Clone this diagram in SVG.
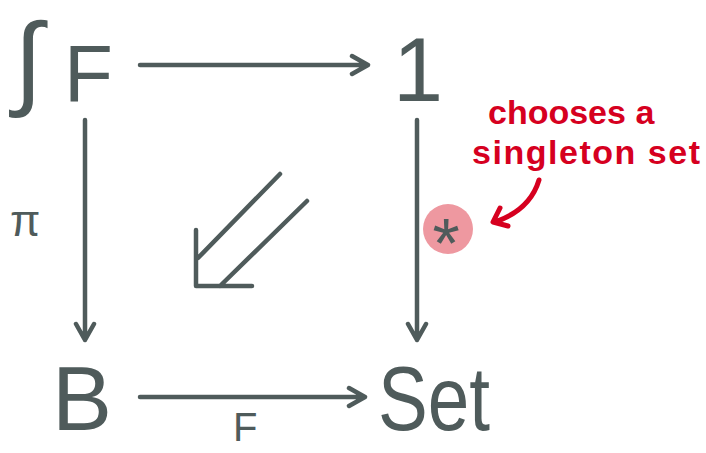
<svg xmlns="http://www.w3.org/2000/svg" width="706" height="453" viewBox="0 0 706 453">
<style>
.lbl{font-family:"Liberation Sans","DejaVu Sans",sans-serif;fill:#4f5b5b}
.ln{stroke:#4f5b5b;stroke-width:4.5;fill:none;stroke-linecap:round;stroke-linejoin:round}
.red{font-family:"Liberation Sans",sans-serif;font-weight:bold;fill:#d6001f;font-size:34px}
</style>
<rect width="706" height="453" fill="#ffffff"/>
<g id="node-intF"><text class="lbl" x="14" y="96" font-size="104">∫</text><text class="lbl" x="64" y="101" font-size="80">F</text></g>
<g id="node-1"><text class="lbl" x="393" y="101" font-size="90">1</text></g>
<g id="node-B"><text class="lbl" x="52" y="430" font-size="90">B</text></g>
<g id="node-Set"><text class="lbl" x="378" y="430" font-size="90" textLength="112" lengthAdjust="spacingAndGlyphs">Set</text></g>
<g id="connectors">
<path class="ln" d="M140 65 H368 M352 56 L368 65 L352 74"/>
<path class="ln" d="M140 397 H365 M349 388 L365 397 L349 406"/>
<path class="ln" d="M85 120 V340 M76 324 L85 340 L94 324"/>
<path class="ln" d="M417 120 V340 M408 324 L417 340 L426 324"/>
<path class="ln" d="M280 174 L198 258 M307 201 L220 286 M196 230 V286 H252"/>
<text class="lbl" x="10" y="236" font-size="44">π</text>
<text class="lbl" x="233" y="441" font-size="40">F</text>
<circle cx="448" cy="229" r="25" fill="#ee98a0"/>
<text class="lbl" x="446" y="268" font-size="70" text-anchor="middle">*</text>
</g>
<g id="note">
<text class="red" x="488" y="124">chooses a</text>
<text class="red" x="472" y="164" textLength="228" lengthAdjust="spacing">singleton set</text>
<path d="M539 180 Q530 210 495 222 M500 208 L493 222 L508 226" stroke="#d6001f" stroke-width="5" fill="none" stroke-linecap="round" stroke-linejoin="round"/>
</g>
</svg>
